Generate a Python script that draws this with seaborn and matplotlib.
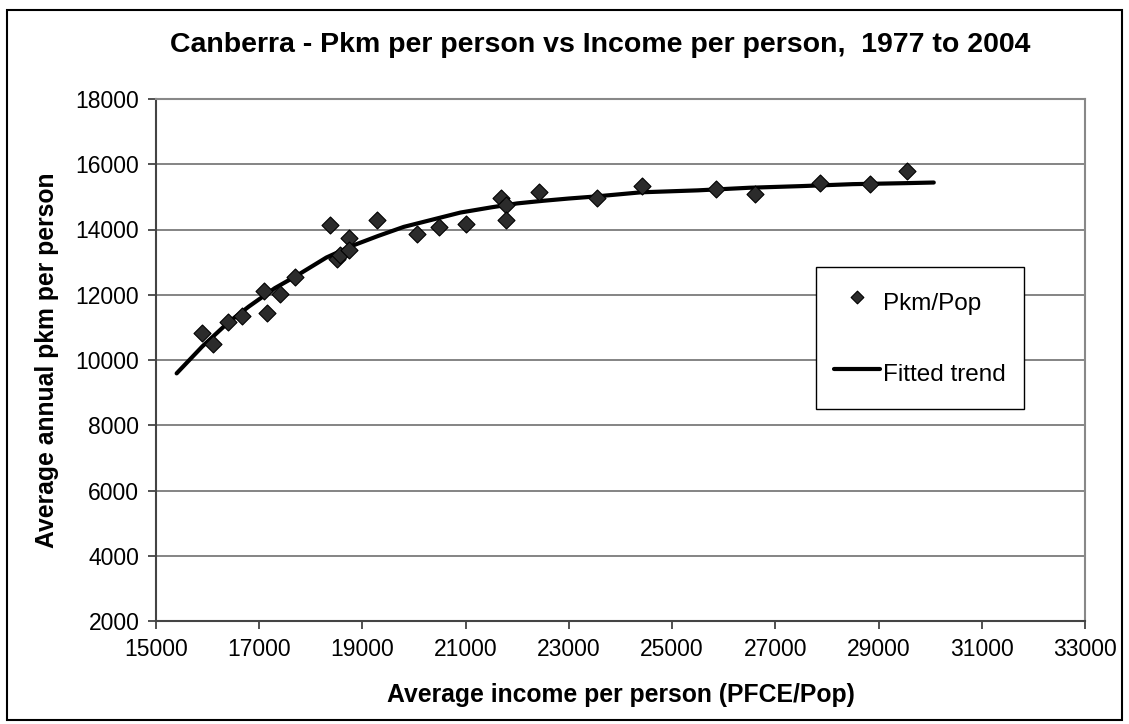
import matplotlib
matplotlib.use("Agg")
import matplotlib.pyplot as plt
from matplotlib.patches import Rectangle
import seaborn as sns
import pandas as pd

income = [15890, 16110, 16390, 16660, 17100, 17145, 17400, 17690, 18370, 18510,
          18570, 18730, 18740, 19280, 20060, 20490, 21000, 21680, 21780, 21780,
          22430, 23550, 24410, 25850, 26600, 27860, 28840, 29550]
pkm = [10840, 10490, 11170, 11340, 12100, 11450, 12020, 12550, 14130, 13090,
       13210, 13730, 13380, 14300, 13850, 14080, 14180, 14980, 14740, 14300,
       15150, 14980, 15330, 15250, 15080, 15440, 15380, 15780]

# fitted trend line
trend_x = [15400, 15900, 16400, 16800, 17300, 17700, 18300, 18800, 19300, 19800,
           20300, 20900, 21500, 22000, 22500, 23000, 23500, 24400, 25500, 26500,
           27500, 28500, 29500, 30070]
trend_y = [9590, 10420, 11150, 11640, 12200, 12560, 13140, 13500, 13800, 14080,
           14280, 14520, 14680, 14800, 14880, 14950, 15010, 15140, 15200, 15280,
           15330, 15390, 15420, 15440]

sns.set_style("white")
plt.rcParams['font.family'] = ['Liberation Sans', 'DejaVu Sans']
plt.rcParams['text.color'] = 'black'
plt.rcParams['axes.labelcolor'] = 'black'

fig = plt.figure(figsize=(11.29, 7.24), dpi=100)
ax = fig.add_axes([156 / 1129, 1 - 621 / 724, (1085 - 156) / 1129, (621 - 99) / 724])

pts = pd.DataFrame({"x": income, "y": pkm})
trend = pd.DataFrame({"x": trend_x, "y": trend_y})

sns.lineplot(data=trend, x="x", y="y", ax=ax, color="black", linewidth=3,
             label="Fitted trend", zorder=3)
sns.scatterplot(data=pts, x="x", y="y", ax=ax, marker="D", s=75, color="#2b2b2b",
                edgecolor="black", linewidth=0.8, label="Pkm/Pop", zorder=4)

ax.set_xlim(15000, 33000)
ax.set_ylim(2000, 18000)
ax.set_xticks(range(15000, 33001, 2000))
ax.set_yticks(range(2000, 18001, 2000))
ax.tick_params(axis="both", labelsize=16.5, colors="#333333", labelcolor="black",
               direction="out", length=6, width=1.2, pad=6, bottom=True, left=True)
ax.yaxis.grid(True, color="#707070", linewidth=1.2)
ax.set_axisbelow(True)

for side in ["top", "right"]:
    ax.spines[side].set_color("#888888")
    ax.spines[side].set_linewidth(1.5)
for side in ["left", "bottom"]:
    ax.spines[side].set_color("#444444")
    ax.spines[side].set_linewidth(1.5)

ax.set_xlabel("Average income per person (PFCE/Pop)", fontsize=17.8, fontweight="bold",
              labelpad=16)
ax.set_ylabel("Average annual pkm per person", fontsize=17.8, fontweight="bold",
              labelpad=12)
fig.text(0.532, 1 - 45 / 724, "Canberra - Pkm per person vs Income per person,  1977 to 2004",
         ha="center", va="center", fontsize=20.5, fontweight="bold")

handles, labels = ax.get_legend_handles_labels()
order = [labels.index("Pkm/Pop"), labels.index("Fitted trend")]
leg = ax.legend([handles[i] for i in order], [labels[i] for i in order],
                loc="upper left", bbox_to_anchor=((816 - 156) / 929, (621 - 267) / 522),
                fontsize=17.5, frameon=True, fancybox=False, shadow=False,
                borderpad=0.75, labelspacing=1.5, handlelength=1.9, handleheight=1.8,
                handletextpad=0.1, borderaxespad=0, markerscale=0.75)
leg.get_frame().set_edgecolor("black")
leg.get_frame().set_linewidth(1.0)
leg.get_frame().set_alpha(1)

# outer chart border
fig.patches.append(Rectangle((7 / 1129, 4 / 724), 1115 / 1129, 710 / 724,
                             transform=fig.transFigure, fill=False,
                             edgecolor="black", linewidth=1.5))

fig.savefig("out.png", dpi=100, facecolor="white")
